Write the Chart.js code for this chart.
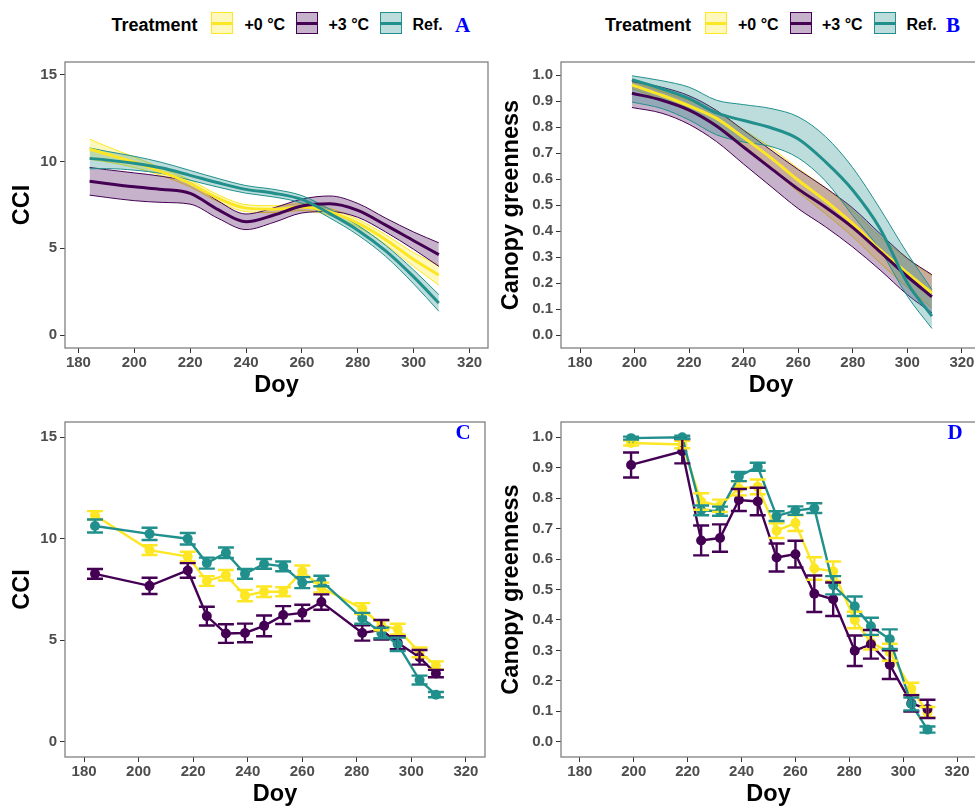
<!DOCTYPE html>
<html><head><meta charset="utf-8">
<script src="https://cdn.jsdelivr.net/npm/chart.js@4.4.1/dist/chart.umd.min.js"></script>
<style>
html,body{margin:0;padding:0;background:#fff;}
body{width:975px;height:806px;overflow:hidden;position:relative;font-family:"Liberation Sans",Arial,sans-serif;}
canvas{position:absolute;}
.lt{position:absolute;font-weight:bold;line-height:20px;top:14.5px;color:#000;white-space:nowrap;}
.t1{font-size:18px;}
.t2{font-size:16px;}
.key{position:absolute;top:12.3px;width:20px;height:20px;border:1px solid;}
.key i{position:absolute;left:0;right:0;top:8.5px;height:3px;}
.pl{position:absolute;font-family:"Liberation Serif","Times New Roman",serif;font-weight:bold;font-size:21px;line-height:21px;color:#0000ff;}
</style></head>
<body>
<div class="lt t1" style="left:111.5px">Treatment</div>
<div class="key" style="left:211px;border-color:#FDE725;background:rgba(253,231,37,0.3)"><i style="background:#FDE725"></i></div>
<div class="lt t2" style="left:244.5px">+0 °C</div>
<div class="key" style="left:295.5px;border-color:#440154;background:rgba(68,1,84,0.3)"><i style="background:#440154"></i></div>
<div class="lt t2" style="left:328.5px">+3 °C</div>
<div class="key" style="left:379.5px;border-color:#21908C;background:rgba(33,144,140,0.3)"><i style="background:#21908C"></i></div>
<div class="lt t2" style="left:412.5px">Ref.</div>
<div class="pl" style="left:455px;top:14.7px">A</div>

<div class="lt t1" style="left:605px">Treatment</div>
<div class="key" style="left:705px;border-color:#FDE725;background:rgba(253,231,37,0.3)"><i style="background:#FDE725"></i></div>
<div class="lt t2" style="left:738px">+0 °C</div>
<div class="key" style="left:789.5px;border-color:#440154;background:rgba(68,1,84,0.3)"><i style="background:#440154"></i></div>
<div class="lt t2" style="left:822px">+3 °C</div>
<div class="key" style="left:873.5px;border-color:#21908C;background:rgba(33,144,140,0.3)"><i style="background:#21908C"></i></div>
<div class="lt t2" style="left:906.5px">Ref.</div>
<div class="pl" style="left:946px;top:14.7px">B</div>

<canvas id="cA" width="490" height="360" style="left:0;top:50px;width:490px;height:360px"></canvas>
<canvas id="cB" width="491" height="360" style="left:490px;top:50px;width:491px;height:360px"></canvas>
<canvas id="cC" width="490" height="420" style="left:0;top:410px;width:490px;height:420px"></canvas>
<canvas id="cD" width="491" height="420" style="left:490px;top:410px;width:491px;height:420px"></canvas>

<div class="pl" style="left:455.5px;top:422.4px">C</div>
<div class="pl" style="left:947.5px;top:422.4px">D</div>

<script>
// ---------- tick labels ----------
const xTicks = [180, 200, 220, 240, 260, 280, 300, 320];
const yTicksCCI = [0, 5, 10, 15];
const yTicksGreen = [0, 0.1, 0.2, 0.3, 0.4, 0.5, 0.6, 0.7, 0.8, 0.9, 1.0];
const seriesNames = ['+0 °C', '+3 °C', 'Ref.'];

// ---------- Panel A: smoothed CCI (mean, lower, upper) ----------
const dayA = [184, 190, 200, 210, 220, 230, 240, 250, 260, 270, 280, 290, 300, 309];
const cciA_p0 = [10.72, 10.44, 9.97, 9.40, 8.74, 7.89, 7.32, 7.26, 7.38, 7.10, 6.45, 5.50, 4.35, 3.45];
const cciA_p0_lo = [10.14, 9.99, 9.67, 9.18, 8.54, 7.69, 7.12, 7.06, 7.18, 6.90, 6.23, 5.22, 3.95, 2.88];
const cciA_p0_hi = [11.30, 10.89, 10.27, 9.62, 8.94, 8.09, 7.52, 7.46, 7.58, 7.30, 6.67, 5.78, 4.75, 4.02];
const cciA_p3 = [8.87, 8.74, 8.55, 8.40, 8.17, 7.23, 6.53, 6.92, 7.44, 7.57, 7.19, 6.34, 5.44, 4.64];
const cciA_p3_lo = [8.07, 7.94, 7.75, 7.65, 7.55, 6.73, 6.08, 6.50, 7.04, 7.12, 6.79, 5.94, 4.94, 3.96];
const cciA_p3_hi = [9.67, 9.54, 9.35, 9.15, 8.79, 7.73, 6.98, 7.34, 7.84, 8.02, 7.59, 6.74, 5.94, 5.32];
const cciA_ref = [10.19, 10.10, 9.91, 9.63, 9.21, 8.78, 8.40, 8.18, 7.82, 7.00, 6.05, 4.85, 3.35, 1.85];
const cciA_ref_lo = [9.59, 9.60, 9.51, 9.31, 8.93, 8.53, 8.18, 7.96, 7.60, 6.75, 5.77, 4.53, 2.95, 1.37];
const cciA_ref_hi = [10.79, 10.60, 10.31, 9.95, 9.49, 9.03, 8.62, 8.40, 8.04, 7.25, 6.33, 5.17, 3.75, 2.33];

// ---------- Panel B: smoothed canopy greenness ----------
const dayB = [199, 210, 220, 230, 240, 250, 260, 270, 280, 290, 300, 309];
const grB_p0 = [0.962, 0.922, 0.881, 0.833, 0.759, 0.681, 0.595, 0.516, 0.428, 0.327, 0.238, 0.162];
const grB_p0_lo = [0.947, 0.907, 0.861, 0.808, 0.729, 0.641, 0.550, 0.466, 0.378, 0.277, 0.183, 0.105];
const grB_p0_hi = [0.977, 0.937, 0.901, 0.858, 0.789, 0.721, 0.640, 0.566, 0.478, 0.377, 0.293, 0.228];
const grB_p3 = [0.930, 0.903, 0.865, 0.804, 0.722, 0.641, 0.561, 0.491, 0.413, 0.320, 0.225, 0.147];
const grB_p3_lo = [0.875, 0.853, 0.810, 0.744, 0.657, 0.571, 0.486, 0.416, 0.338, 0.250, 0.155, 0.085];
const grB_p3_hi = [0.975, 0.953, 0.920, 0.864, 0.787, 0.711, 0.636, 0.566, 0.488, 0.390, 0.295, 0.232];
const grB_ref = [0.982, 0.947, 0.909, 0.854, 0.825, 0.797, 0.754, 0.666, 0.557, 0.409, 0.200, 0.073];
const grB_ref_lo = [0.896, 0.871, 0.827, 0.770, 0.742, 0.725, 0.681, 0.592, 0.459, 0.327, 0.149, 0.025];
const grB_ref_hi = [0.997, 0.978, 0.953, 0.903, 0.886, 0.871, 0.839, 0.763, 0.643, 0.485, 0.314, 0.175];

// ---------- Panel C: CCI means ± error ----------
const dayC = [184, 204, 218, 225, 232, 239, 246, 253, 260, 267, 282, 289, 295, 303, 309];
const cciC_p0 = [11.16, 9.44, 9.12, 7.92, 8.20, 7.20, 7.39, 7.39, 8.40, 7.60, 6.56, 5.73, 5.55, 4.40, 3.76];
const cciC_p0_err = [0.20, 0.24, 0.24, 0.24, 0.26, 0.28, 0.26, 0.22, 0.28, 0.24, 0.27, 0.24, 0.26, 0.24, 0.20];
const cciC_p3 = [8.27, 7.68, 8.44, 6.19, 5.33, 5.36, 5.71, 6.24, 6.35, 6.88, 5.36, 5.52, 4.88, 4.16, 3.36];
const cciC_p3_err = [0.24, 0.40, 0.36, 0.46, 0.46, 0.46, 0.51, 0.44, 0.40, 0.38, 0.38, 0.48, 0.32, 0.36, 0.18];
const cciC_ref = [10.63, 10.24, 10.00, 8.80, 9.31, 8.27, 8.76, 8.64, 7.84, 7.92, 6.08, 5.36, 4.80, 3.04, 2.32];
const cciC_ref_err = [0.32, 0.30, 0.28, 0.27, 0.26, 0.24, 0.24, 0.24, 0.27, 0.26, 0.27, 0.26, 0.33, 0.22, 0.13];

// ---------- Panel D: canopy greenness means ± error ----------
const dayD = [199, 218, 225, 232, 239, 246, 253, 260, 267, 274, 282, 288, 295, 303, 309];
const grD_p0 = [0.981, 0.976, 0.789, 0.775, 0.832, 0.837, 0.693, 0.718, 0.569, 0.560, 0.400, 0.326, 0.294, 0.174, 0.097];
const grD_p0_err = [0.008, 0.012, 0.027, 0.020, 0.023, 0.024, 0.024, 0.026, 0.037, 0.032, 0.027, 0.023, 0.028, 0.020, 0.017];
const grD_p3 = [0.909, 0.954, 0.661, 0.669, 0.794, 0.789, 0.605, 0.616, 0.486, 0.468, 0.299, 0.320, 0.253, 0.126, 0.108];
const grD_p3_err = [0.041, 0.040, 0.049, 0.045, 0.036, 0.045, 0.046, 0.044, 0.060, 0.055, 0.050, 0.047, 0.047, 0.027, 0.030];
const grD_ref = [0.997, 1.000, 0.760, 0.757, 0.871, 0.903, 0.741, 0.759, 0.767, 0.514, 0.445, 0.379, 0.337, 0.124, 0.040];
const grD_ref_err = [0.005, 0.005, 0.016, 0.015, 0.015, 0.013, 0.016, 0.014, 0.016, 0.030, 0.032, 0.028, 0.032, 0.021, 0.010];

// ---------- styling ----------
const COL = { p0: '#FDE725', p3: '#440154', ref: '#21908C' };
const FILL = { p0: 'rgba(253,231,37,0.3)', p3: 'rgba(68,1,84,0.3)', ref: 'rgba(33,144,140,0.3)' };
const FONT = "'Liberation Sans', Arial, Helvetica, sans-serif";
Chart.defaults.font.family = FONT;

const pts = (xs, ys) => xs.map((x, i) => ({ x: x, y: ys[i] }));

const boxPlugin = {
  id: 'panelBox',
  afterDraw(chart) {
    const { ctx, chartArea: a } = chart;
    ctx.save();
    ctx.strokeStyle = '#808080';
    ctx.lineWidth = 1.3;
    ctx.strokeRect(a.left, a.top, a.right - a.left, a.bottom - a.top);
    ctx.restore();
  }
};

const errPlugin = {
  id: 'errBars',
  afterDatasetsDraw(chart) {
    const { ctx } = chart;
    const xs = chart.scales.x, ys = chart.scales.y;
    ctx.save();
    chart.data.datasets.forEach((ds) => {
      if (!ds.errors) return;
      ctx.strokeStyle = ds.borderColor;
      ctx.lineWidth = 2.4;
      ds.data.forEach((p, i) => {
        const px = xs.getPixelForValue(p.x);
        const y1 = ys.getPixelForValue(p.y - ds.errors[i]);
        const y2 = ys.getPixelForValue(p.y + ds.errors[i]);
        ctx.beginPath();
        ctx.moveTo(px, y1); ctx.lineTo(px, y2);
        ctx.moveTo(px - 8, y1); ctx.lineTo(px + 8, y1);
        ctx.moveTo(px - 8, y2); ctx.lineTo(px + 8, y2);
        ctx.stroke();
      });
    });
    ctx.restore();
  }
};

// ribbons drawn first (higher order = underneath), mean lines on top of all ribbons
function ribbonSets(days, mean, lo, hi, key, ribbonOrder, lineOrder) {
  const common = { pointRadius: 0, cubicInterpolationMode: 'monotone', fill: false };
  return [
    Object.assign({}, common, { label: key + ' hi', data: pts(days, hi), borderColor: COL[key], borderWidth: 1, backgroundColor: FILL[key], fill: '+1', order: ribbonOrder + 1 }),
    Object.assign({}, common, { label: key + ' lo', data: pts(days, lo), borderColor: COL[key], borderWidth: 1, order: ribbonOrder }),
    Object.assign({}, common, { label: key, data: pts(days, mean), borderColor: COL[key], borderWidth: 3, order: lineOrder })
  ];
}

function pointSet(days, mean, err, key, order) {
  return {
    label: key, data: pts(days, mean), errors: err,
    borderColor: COL[key], backgroundColor: COL[key], borderWidth: 2.4,
    pointRadius: 5, pointBorderWidth: 0, pointBackgroundColor: COL[key],
    tension: 0, fill: false, order: order
  };
}

function makeChart(id, datasets, cfg) {
  return new Chart(document.getElementById(id), {
    type: 'line',
    data: { datasets: datasets },
    plugins: [boxPlugin, errPlugin],
    options: {
      responsive: false, animation: false, devicePixelRatio: 1,
      layout: { padding: cfg.pad },
      plugins: { legend: { display: false }, tooltip: { enabled: false } },
      scales: {
        x: {
          type: 'linear', min: cfg.xmin, max: cfg.xmax,
          afterBuildTicks: (s) => { s.ticks = xTicks.map(v => ({ value: v })); },
          afterFit: (s) => { s.height = cfg.xh; },
          grid: { display: true, drawOnChartArea: false, drawTicks: true, tickLength: 5, color: '#333333', lineWidth: 1 },
          border: { display: false },
          ticks: { color: '#4D4D4D', font: { size: 15, weight: 'bold' }, padding: 1, maxRotation: 0, autoSkip: false,
                   callback: (v) => String(v) },
          title: { display: true, text: 'Doy', color: '#000', font: { size: 23.5, weight: 'bold' },
                   padding: { top: 0, bottom: cfg.xh - 51.5 } }
        },
        y: {
          type: 'linear', min: cfg.ymin, max: cfg.ymax,
          afterBuildTicks: (s) => { s.ticks = cfg.yt.map(v => ({ value: v })); },
          afterFit: (s) => { s.width = cfg.yw; },
          grid: { display: true, drawOnChartArea: false, drawTicks: true, tickLength: 5, color: '#333333', lineWidth: 1 },
          border: { display: false },
          ticks: { color: '#4D4D4D', font: { size: 15, weight: 'bold' }, padding: 3, autoSkip: false,
                   callback: cfg.yfmt },
          title: { display: true, text: cfg.ytitle, color: '#000', font: { size: 23.5, weight: 'bold' },
                   padding: { top: cfg.ytp, bottom: 0 } }
        }
      }
    }
  });
}

const fmtInt = (v) => String(Math.round(v));
const fmt1 = (v) => Number(v).toFixed(1);

// Panel A
makeChart('cA', [].concat(
  ribbonSets(dayA, cciA_p0, cciA_p0_lo, cciA_p0_hi, 'p0', 30, 3),
  ribbonSets(dayA, cciA_p3, cciA_p3_lo, cciA_p3_hi, 'p3', 20, 2),
  ribbonSets(dayA, cciA_ref, cciA_ref_lo, cciA_ref_hi, 'ref', 10, 1)
), { pad: { left: 0, top: 8, right: 2, bottom: 0 }, xmin: 175.2, xmax: 326.6, xh: 62,
     ymin: -0.75, ymax: 15.75, yt: yTicksCCI, yw: 65, ytitle: 'CCI', ytp: 8.4, yfmt: fmtInt });

// Panel B
makeChart('cB', [].concat(
  ribbonSets(dayB, grB_p0, grB_p0_lo, grB_p0_hi, 'p0', 30, 3),
  ribbonSets(dayB, grB_p3, grB_p3_lo, grB_p3_hi, 'p3', 20, 2),
  ribbonSets(dayB, grB_ref, grB_ref_lo, grB_ref_hi, 'ref', 10, 1)
), { pad: { left: 0, top: 8, right: 0, bottom: 0 }, xmin: 173, xmax: 327, xh: 62,
     ymin: -0.05, ymax: 1.05, yt: yTicksGreen, yw: 71, ytitle: 'Canopy greenness', ytp: 7.9, yfmt: fmt1 });

// Panel C
makeChart('cC', [
  pointSet(dayC, cciC_p0, cciC_p0_err, 'p0', 3),
  pointSet(dayC, cciC_p3, cciC_p3_err, 'p3', 2),
  pointSet(dayC, cciC_ref, cciC_ref_err, 'ref', 1)
], { pad: { left: 0, top: 4, right: 1, bottom: 0 }, xmin: 173, xmax: 327, xh: 73,
     ymin: -0.75, ymax: 15.75, yt: yTicksCCI, yw: 65, ytitle: 'CCI', ytp: 8.4, yfmt: fmtInt });

// Panel D
makeChart('cD', [
  pointSet(dayD, grD_p0, grD_p0_err, 'p0', 3),
  pointSet(dayD, grD_p3, grD_p3_err, 'p3', 2),
  pointSet(dayD, grD_ref, grD_ref_err, 'ref', 1)
], { pad: { left: 0, top: 4, right: 0, bottom: 0 }, xmin: 173, xmax: 327, xh: 73,
     ymin: -0.05, ymax: 1.05, yt: yTicksGreen, yw: 71, ytitle: 'Canopy greenness', ytp: 7.9, yfmt: fmt1 });
</script>
</body></html>
